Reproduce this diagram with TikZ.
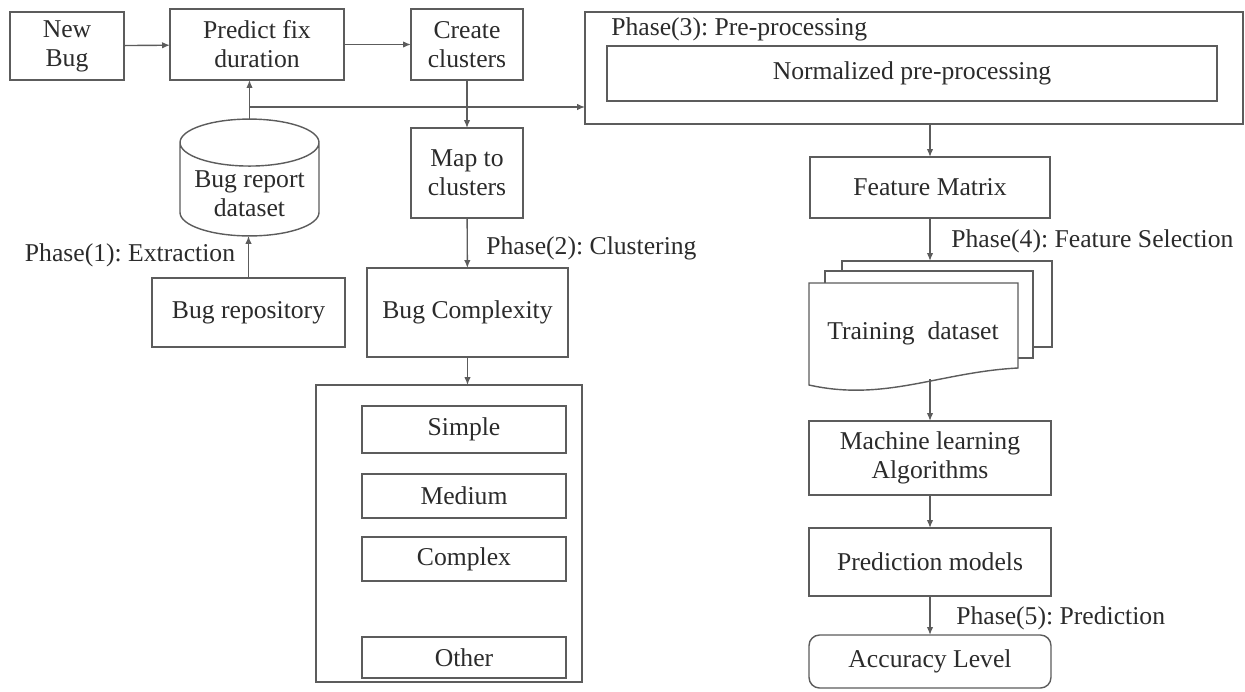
\documentclass[tikz,border=0pt]{standalone}
\usepackage{fontspec}
\setmainfont{Liberation Serif}
\usepackage{xcolor}
\usetikzlibrary{arrows.meta,shapes.geometric}
\definecolor{bugink}{HTML}{2B2B2B}
\definecolor{bugline}{HTML}{5C5C5C}
\frenchspacing

\begin{document}
\begin{tikzpicture}[
  x=0.02cm, y=-0.02cm,
  font=\fontsize{14.6}{16.5}\selectfont,
  box/.style={draw=bugline, fill=white, text=bugink, line width=0.8pt,
    align=center, inner sep=2pt, outer sep=0pt},
  drum/.style={draw=bugline, fill=white, text=bugink, line width=0.8pt,
    cylinder, shape border rotate=90, aspect=0.4, align=center,
    inner sep=2pt, outer sep=0pt},
  flow/.style={draw=bugline, line width=0.8pt, -{Latex[length=1.6mm,width=1.3mm]}},
  plabel/.style={text=bugink, inner sep=0pt},
  docline/.style={draw=bugline, fill=white, line width=0.8pt},
]

\useasboundingbox (0,0) rectangle (1245,691);

% ===== phase 1: extraction =====
\node[box, minimum width=2.28cm, minimum height=1.36cm] (newbug) at (67,46) {New\\Bug};
\node[box, minimum width=3.48cm, minimum height=1.42cm] (predict) at (257,44.5)
  {Predict fix\\duration};
\node[drum, minimum width=2.78cm, minimum height=1.8cm, anchor=shape center]
  (dataset) at (249.5,177.5) {Bug report\\dataset};
\node[plabel] (extract) at (130,255) {Phase(1): Extraction};
\node[box, minimum width=3.86cm, minimum height=1.38cm] (repo) at (248.5,312.5)
  {Bug repository};

% ===== phase 2: clustering =====
\node[box, minimum width=2.24cm, minimum height=1.42cm] (create) at (467,44.5)
  {Create\\clusters};
\node[box, minimum width=2.24cm, minimum height=1.80cm] (mapc) at (467,173)
  {Map to\\clusters};
\node[plabel, anchor=west] (cluster) at (486,248) {Phase(2): Clustering};
\node[box, minimum width=4.02cm, minimum height=1.78cm] (complexity) at (467.5,312.5)
  {Bug Complexity};
\node[box, minimum width=5.32cm, minimum height=5.94cm] (levels) at (449,533.5) {};
\node[box, minimum width=4.08cm, minimum height=0.94cm] (simple) at (464,429.5) {Simple};
\node[box, minimum width=4.08cm, minimum height=0.88cm] (medium) at (464,496) {Medium};
\node[box, minimum width=4.08cm, minimum height=0.88cm] (complex) at (464,559) {Complex};
\node[box, minimum width=4.08cm, minimum height=0.82cm] (other) at (464,657.5) {Other};

% ===== phase 3: pre-processing =====
\node[box, minimum width=13.16cm, minimum height=2.24cm] (prep) at (914,68) {};
\node[plabel, anchor=west] (preptitle) at (611,29) {Phase(3): Pre-processing};
\node[box, minimum width=12.2cm, minimum height=1.1cm] (norm) at (912,73.5)
  {Normalized pre-processing};
\node[box, minimum width=4.8cm, minimum height=1.22cm] (featmat) at (930,187.5)
  {Feature Matrix};

% ===== phase 4: feature selection =====
\node[plabel, anchor=west] (select) at (951,241) {Phase(4): Feature Selection};
\draw[docline] (842,261) rectangle (1052,347);
\draw[docline] (825,271) rectangle (1033,358);
\draw[docline] (809,283) -- (1018,283) -- (1018,368)
  .. controls (940,372) and (885,402) .. (809,385) -- cycle;
\node[plabel] (train) at (913,333) {Training\ \ dataset};
\coordinate (doctop) at (930,261);
\coordinate (docfoot) at (930,379);
\node[box, minimum width=4.84cm, minimum height=1.48cm] (mla) at (930,458)
  {Machine learning\\Algorithms};
\node[box, minimum width=4.84cm, minimum height=1.36cm] (predm) at (930,562)
  {Prediction models};

% ===== phase 5: prediction =====
\node[plabel, anchor=west] (predphase) at (956,618) {Phase(5): Prediction};
\node[box, rounded corners=6pt, minimum width=4.84cm, minimum height=1.06cm] (accuracy)
  at (930,661.5) {Accuracy Level};

% ===== connectors =====
\draw[flow] (newbug) -- (predict);
\draw[flow] (predict) -- (create);
\draw[flow] (dataset.north) -- (dataset.north |- predict.south);
\coordinate (branch) at (dataset.north |- 0,107);
\draw[flow] (branch) -- (prep.west |- branch);
\draw[flow] (repo.north) -- (repo.north |- dataset.south);
\draw[flow] (create) -- (mapc);
\draw[flow] (mapc) -- (complexity);
\draw[flow] (complexity.south) -- (complexity.south |- levels.north);
\draw[flow] (featmat.north |- prep.south) -- (featmat.north);
\draw[flow] (featmat.south) -- (doctop);
\draw[flow] (docfoot) -- (mla.north);
\draw[flow] (mla) -- (predm);
\draw[flow] (predm) -- (accuracy);

\end{tikzpicture}
\end{document}
